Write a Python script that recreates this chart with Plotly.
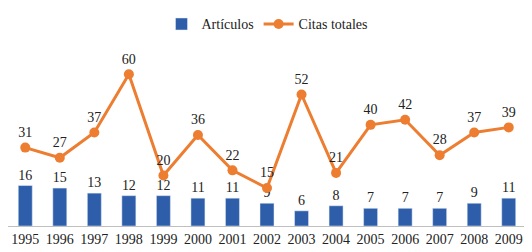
import plotly.graph_objects as go

years = ["1995","1996","1997","1998","1999","2000","2001","2002","2003","2004","2005","2006","2007","2008","2009"]
articulos = [16,15,13,12,12,11,11,9,6,8,7,7,7,9,11]
citas = [31,27,37,60,20,36,22,15,52,21,40,42,28,37,39]

FONT = "Times New Roman"
BLUE = "#2E5EAA"
ORANGE = "#ED7D31"

fig = go.Figure()
fig.add_trace(go.Bar(
    x=years, y=articulos, name="Artículos",
    marker=dict(color=BLUE),
    text=[str(v) for v in articulos], textposition="outside",
    textfont=dict(family=FONT, size=14, color="#222222"),
    cliponaxis=False,
))
fig.add_trace(go.Scatter(
    x=years, y=citas, name="Citas totales", mode="lines+markers+text",
    line=dict(color=ORANGE, width=3),
    marker=dict(color=ORANGE, size=10),
    text=[str(v) for v in citas], textposition="top center",
    textfont=dict(family=FONT, size=14, color="#222222"),
    cliponaxis=False,
))

fig.update_layout(
    width=524, height=244,
    margin=dict(l=0, r=6, t=31, b=26),
    paper_bgcolor="white", plot_bgcolor="white",
    bargap=0.595,
    font=dict(family=FONT, size=14, color="#222222"),
    showlegend=True,
    legend=dict(orientation="h", x=0.5, xanchor="center", y=1.139, yanchor="middle",
                font=dict(family=FONT, size=14, color="#222222"),
                itemwidth=30, tracegroupgap=0),
)
fig.update_xaxes(showline=True, linecolor="#BFBFBF", linewidth=1, ticks="",
                 tickfont=dict(family=FONT, size=14, color="#222222"), showgrid=False,
                 automargin=False, range=[-0.5, 14.5])
fig.update_yaxes(visible=False, range=[0, 70], showgrid=False, automargin=False)

fig.write_html("out.html")
